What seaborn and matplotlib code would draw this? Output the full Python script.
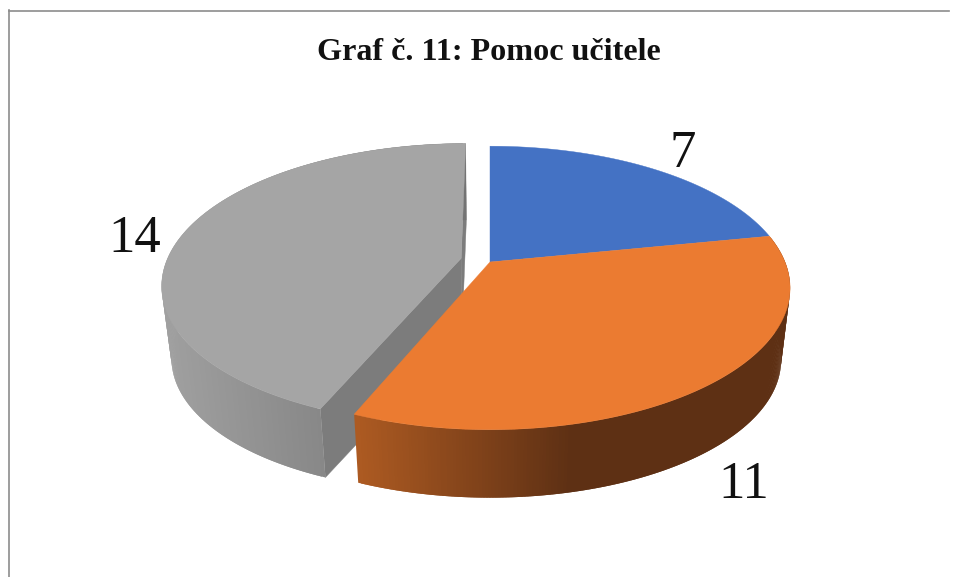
import numpy as np
import matplotlib
matplotlib.use("Agg")
import matplotlib.pyplot as plt
import seaborn as sns
from matplotlib.collections import PolyCollection

title = "Graf č. 11: Pomoc učitele"
values = [7, 11, 14]
top_colors = ["#4472C4", "#EB7B31", "#A5A5A5"]
side_colors = [None, ["#AE5B22", "#5E3014", "#5E3014"], ["#A0A0A0", "#727272"]]
wall_color = "#7C7C7C"
explode = [0.0, 0.0, 0.1]

sns.set_style("white")
plt.rcParams["font.family"] = ["Liberation Serif", "DejaVu Serif"]

# projected pie: the axes run in image pixels
cx, cy = 490, 262
rx, ry, persp = 295, 137, 0.183
depth, shrink = 73, 0.97


def project(u, v):
    w = 1 + persp * v
    return cx + rx * u / w, cy - ry * v / w


def drop(x, y):
    return cx + shrink * (x - cx), cy + depth + shrink * (y - cy)


def slice_points(start, stop, off):
    t = np.radians(np.linspace(start, stop, 240))
    return project(np.sin(t) + off[0], np.cos(t) + off[1])


fig = plt.figure(figsize=(9.59, 5.77), dpi=100)
ax = fig.add_axes([8.5 / 959, 0, (949 - 8.5) / 959, (577 - 10.5) / 577])
ax.set_xlim(8.5, 949)
ax.set_ylim(577, 10.5)
ax.set_xticks([])
ax.set_yticks([])
for name in ["right", "bottom"]:
    ax.spines[name].set_visible(False)
for name in ["top", "left"]:
    ax.spines[name].set_color("#8C8C8C")
    ax.spines[name].set_linewidth(1.2)

edges = np.cumsum([0] + values) / sum(values) * 360

# back to front: grey, blue, orange
for z, i in enumerate([2, 0, 1]):
    start, stop = edges[i], edges[i + 1]
    mid = np.radians((start + stop) / 2)
    off = (explode[i] * np.sin(mid), explode[i] * np.cos(mid) + explode[i] * 0.08)
    x, y = slice_points(start, stop, off)
    ax0, ay0 = project(*off)
    bx, by = drop(x, y)
    bax, bay = drop(ax0, ay0)

    if explode[i] > 0:
        # cut faces of the pulled out slice
        for j in [0, -1]:
            ax.fill([ax0, x[j], bx[j], bax], [ay0, y[j], by[j], bay],
                    color=wall_color, lw=0.3, zorder=z * 3 + 1)

    if side_colors[i] is not None:
        # quads overlap the next one so no seams show
        quads = [[(x[k], y[k]), (x[k + 2], y[k + 2]), (bx[k + 2], by[k + 2]), (bx[k], by[k])]
                 for k in range(len(x) - 2)]
        ramp = sns.blend_palette(side_colors[i], n_colors=256)
        pos = (x[:-2] - x.min()) / (x.max() - x.min())
        face = [ramp[int(p * 255)] for p in pos]
        ax.add_collection(PolyCollection(quads, facecolors=face, linewidths=0, zorder=z * 3 + 2))

    ax.fill(np.r_[ax0, x], np.r_[ay0, y], color=top_colors[i], lw=0.3, zorder=z * 3 + 3)

ax.text(488.5, 53, title, fontsize=23.1, fontweight="bold", ha="center", va="center", color="#111111")
ax.text(683, 154, str(values[0]), fontsize=38, ha="center", va="center", color="#111111", zorder=20)
ax.text(744, 485, str(values[1]), fontsize=38, ha="center", va="center", color="#111111", zorder=20)
ax.text(135, 239, str(values[2]), fontsize=38, ha="center", va="center", color="#111111", zorder=20)

fig.savefig("out.png", dpi=100)
